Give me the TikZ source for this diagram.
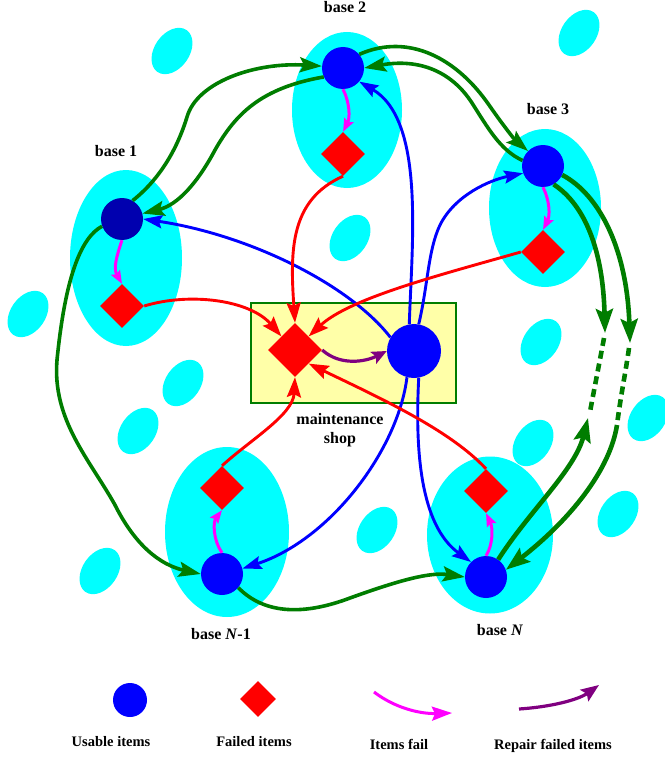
\documentclass[tikz,border=0pt]{standalone}
\usepackage{fontspec}
\setmainfont{Liberation Serif}
\usetikzlibrary{arrows.meta,shapes.geometric}
\definecolor{basecyan}{RGB}{0,255,255}
\definecolor{itemblue}{RGB}{0,0,255}
\definecolor{navyblue}{RGB}{0,0,175}
\definecolor{flowgreen}{RGB}{0,125,0}
\definecolor{shopyellow}{RGB}{255,255,168}
\definecolor{failpink}{RGB}{255,0,255}
\definecolor{repairpurple}{RGB}{128,0,128}

\begin{document}
\begin{tikzpicture}[x=1pt,y=-1pt,
  spot/.style={ellipse,fill=basecyan,minimum width=35pt,minimum height=51pt,inner sep=0pt,rotate=-35},
  zone/.style={ellipse,fill=basecyan,inner sep=0pt},
  usable/.style={circle,fill=itemblue,minimum size=42pt,inner sep=0pt},
  failed/.style={diamond,fill=red,minimum width=44pt,minimum height=44pt,inner sep=0pt},
  shopbox/.style={rectangle,fill=shopyellow,draw=flowgreen,line width=2.5pt,minimum width=205pt,minimum height=100pt},
  lbl/.style={font=\bfseries\fontsize{16}{19}\selectfont,inner sep=0pt,anchor=base},
  keylbl/.style={lbl,font=\bfseries\fontsize{14.5}{17}\selectfont},
  greenflow/.style={draw=flowgreen,line width=3.6pt,-{Stealth[length=22pt,width=15pt,inset=4pt]}},
  heavyflow/.style={greenflow,line width=4.6pt,-{Stealth[length=24pt,width=17pt,inset=4pt]}},
  gapflow/.style={draw=flowgreen,line width=4.6pt,dash pattern=on 8pt off 5pt},
  blueflow/.style={draw=itemblue,line width=2.9pt,-{Stealth[length=19pt,width=13pt,inset=3pt]}},
  redflow/.style={draw=red,line width=2.9pt,-{Stealth[length=20pt,width=14pt,inset=3pt]}},
  failflow/.style={draw=failpink,line width=3pt,-{Stealth[length=13pt,width=10pt,inset=2pt]}},
  repairflow/.style={draw=repairpurple,line width=3.2pt,-{Stealth[length=15pt,width=13pt,inset=3pt]}}]
\useasboundingbox (0,0) rectangle (664,757);

\node[spot] (s1) at (172,51) {};
\node[spot] (s2) at (579,33) {};
\node[spot] (s3) at (350,238) {};
\node[spot] (s4) at (28,314) {};
\node[spot] (s5) at (183,383) {};
\node[spot] (s6) at (138,431) {};
\node[spot] (s7) at (541,342) {};
\node[spot] (s8) at (533,443) {};
\node[spot] (s9) at (648,418) {};
\node[spot] (s10) at (100,571) {};
\node[spot] (s11) at (377,530) {};
\node[spot] (s12) at (618,514) {};

\node[zone,minimum width=112pt,minimum height=176pt] (z1) at (126,258) {};
\node[zone,minimum width=110pt,minimum height=156pt] (z2) at (347,110) {};
\node[zone,minimum width=112pt,minimum height=158pt] (z3) at (545,208) {};
\node[zone,minimum width=124pt,minimum height=170pt] (zN1) at (227,532) {};
\node[zone,minimum width=126pt,minimum height=157pt] (zN) at (490,535) {};
\node[shopbox] (shop) at (353.5,353) {};

\node[usable,fill=navyblue] (c1) at (122,219) {};
\node[failed] (f1) at (122,306) {};
\node[usable] (c2) at (343,68) {};
\node[failed] (f2) at (343,154) {};
\node[usable] (c3) at (543,166) {};
\node[failed] (f3) at (543,252) {};
\node[usable] (cN1) at (222,574) {};
\node[failed] (fN1) at (222,488) {};
\node[usable] (cN) at (486,577) {};
\node[failed] (fN) at (486,491) {};
\node[failed,minimum width=54pt,minimum height=54pt] (D) at (295,350) {};
\node[usable,minimum size=54pt] (S) at (414,351) {};

\coordinate (gap1top) at (604,338);
\coordinate (gap1bot) at (590,412);
\coordinate (gap2top) at (629,348);
\coordinate (gap2bot) at (617,425);
\coordinate (up1) at (605,333);
\coordinate (up2) at (630,343);
\coordinate (pN1) at (588,418);

\draw[greenflow] (c1.60) .. controls (165,175) and (180,140) .. (187,117) .. controls (197,82) and (255,62) .. (c2.175);
\draw[greenflow] (c2.205) .. controls (260,88) and (235,115) .. (215,150) .. controls (198,182) and (178,205) .. (c1.15);
\draw[greenflow] (c2.40) .. controls (410,32) and (458,60) .. (489,105) .. controls (505,128) and (515,140) .. (c3.135);
\draw[greenflow] (c3.165) .. controls (500,150) and (488,128) .. (472,103) .. controls (452,72) and (420,58) .. (c2.east);
\draw[heavyflow] (c3.-60) .. controls (585,205) and (603,250) .. (up1);
\draw[heavyflow] (c3.-25) .. controls (600,195) and (627,250) .. (up2);
\draw[gapflow] (gap1top) .. controls (600,360) and (594,390) .. (gap1bot);
\draw[gapflow] (gap2top) .. controls (626,370) and (620,400) .. (gap2bot);
\draw[heavyflow] (cN.55) .. controls (530,510) and (575,470) .. (pN1);
\draw[heavyflow] (gap2bot) .. controls (610,470) and (570,520) .. (cN.20);
\draw[greenflow] (c1.200) .. controls (80,238) and (65,280) .. (57,360) .. controls (52,420) and (90,460) .. (115,505) .. controls (135,545) and (160,565) .. (cN1.west);
\draw[greenflow] (cN1.-40) .. controls (265,615) and (305,615) .. (350,598) .. controls (400,580) and (430,572) .. (cN.west);

\draw[blueflow] (S.150) .. controls (350,285) and (250,235) .. (c1.east);
\draw[blueflow] (S.100) .. controls (412,240) and (425,120) .. (c2.-40);
\draw[blueflow] (S.80) .. controls (428,285) and (428,250) .. (440,225) .. controls (455,195) and (490,180) .. (c3.200);
\draw[blueflow] (S.255) .. controls (398,450) and (330,540) .. (cN1.15);
\draw[blueflow] (S.280) .. controls (415,450) and (420,525) .. (cN.135);

\draw[redflow] (f2.south) .. controls (290,200) and (290,250) .. (D.north);
\draw[redflow] (f1.east) .. controls (190,292) and (250,300) .. (D.north west);
\draw[redflow] (f3.west) .. controls (440,275) and (350,298) .. (D.north east);
\draw[redflow] (fN1.north) .. controls (250,440) and (293,415) .. (D.south);
\draw[redflow] (fN.north) .. controls (450,430) and (380,398) .. (D.south east);

\draw[failflow] (c1.south) .. controls (117,255) and (113,268) .. (f1.north);
\draw[failflow] (c2.south) .. controls (350,103) and (350,118) .. (f2.north);
\draw[failflow] (c3.south) .. controls (550,201) and (550,216) .. (f3.north);
\draw[failflow] (cN1.north) .. controls (213,540) and (213,522) .. (fN1.south);
\draw[failflow] (cN.north) .. controls (493,545) and (493,528) .. (fN.south);
\draw[repairflow] (D.east) .. controls (340,366) and (365,362) .. (S.west);

\node[lbl] (lb1) at (116,156) {base 1};
\node[lbl] (lb2) at (345,13) {base 2};
\node[lbl] (lb3) at (548,115) {base 3};
\node[lbl] (lbN1) at (221,639) {base \textit{N}-1};
\node[lbl] (lbN) at (500,635) {base \textit{N}};
\node[lbl] (maint) at (340,424) {maintenance};
\node[lbl] (shoptext) at (340,443) {shop};

\node[usable,minimum size=34pt] (keyusable) at (130,700) {};
\node[failed,minimum width=36pt,minimum height=36pt] (keyfailed) at (258,699) {};
\coordinate (failfrom) at (374,692);
\coordinate (failto) at (452,713);
\coordinate (repairfrom) at (519,709);
\coordinate (repairto) at (599,685);
\draw[failflow,-{Stealth[length=20pt,width=14pt,inset=3pt]}] (failfrom) .. controls (395,708) and (420,714) .. (failto);
\draw[repairflow,-{Stealth[length=18pt,width=14pt,inset=3pt]}] (repairfrom) .. controls (550,707) and (578,700) .. (repairto);
\node[keylbl] (keyusabletext) at (111,746) {Usable items};
\node[keylbl] (keyfailedtext) at (254,746) {Failed items};
\node[keylbl] (keyfailtext) at (399,749) {Items fail};
\node[keylbl] (keyrepairtext) at (553,749) {Repair failed items};
\end{tikzpicture}
\end{document}
